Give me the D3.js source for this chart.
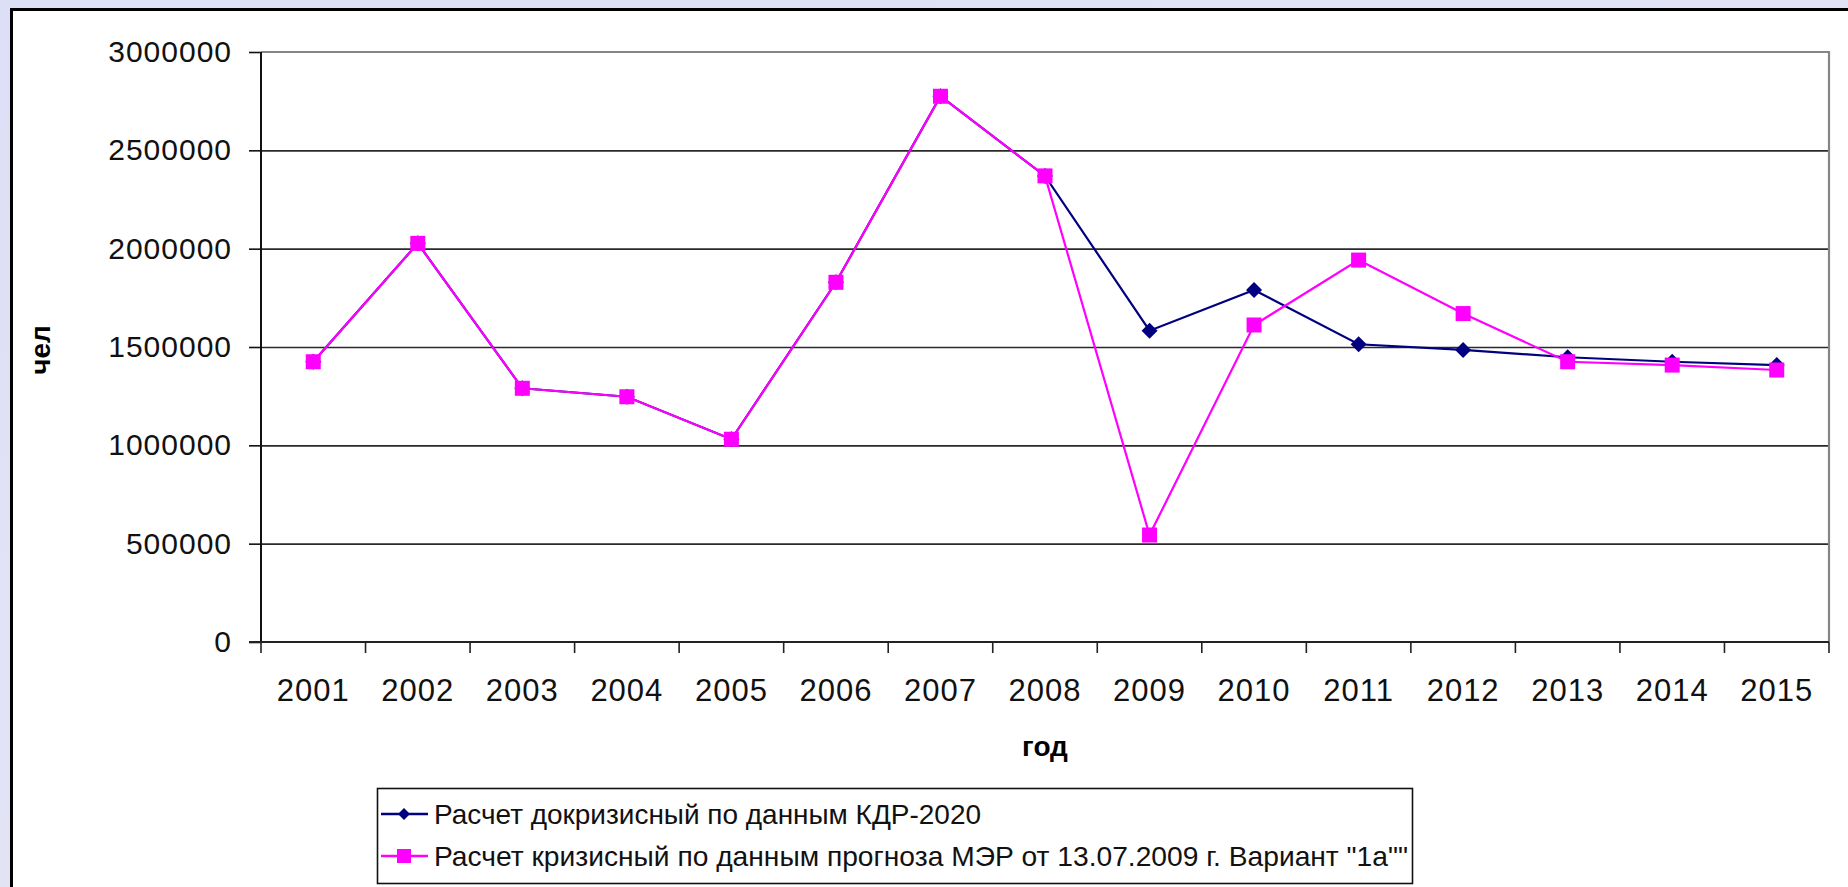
<!DOCTYPE html>
<html><head><meta charset="utf-8">
<script src="https://cdn.jsdelivr.net/npm/d3@7"></script>
<style>
html,body{margin:0;padding:0;background:#dfe1f5;overflow:hidden}
svg{display:block}
</style></head><body>
<svg id="c" width="1848" height="887"></svg>
<script>
// ---- data ----
const years = ["2001","2002","2003","2004","2005","2006","2007","2008","2009","2010","2011","2012","2013","2014","2015"];
const preCrisis = [1425000,2027000,1290000,1247000,1031000,1829000,2775000,2370000,1583000,1790000,1514000,1485000,1448000,1425000,1408000];
const crisis    = [1425000,2027000,1290000,1247000,1031000,1829000,2775000,2370000,544000,1612000,1942000,1670000,1425000,1408000,1383000];
const seriesNames = ["Расчет докризисный по данным КДР-2020", "Расчет кризисный по данным прогноза МЭР от 13.07.2009 г. Вариант \"1а\"\""];
const yTicks = [0,500000,1000000,1500000,2000000,2500000,3000000];
const xTitle = "год";
const yTitle = "чел";

// ---- layout ----
const svg = d3.select("#c");
const L = 261, R = 1829, T = 52, B = 642;
const font = "'Liberation Sans', Arial, sans-serif";

const defs = svg.append("defs");
const g0 = defs.append("linearGradient").attr("id","bg").attr("x1",0).attr("y1",0).attr("x2",1).attr("y2",1);
g0.append("stop").attr("offset","0%").attr("stop-color","#dcdff5");
g0.append("stop").attr("offset","100%").attr("stop-color","#e9eaf8");
svg.append("rect").attr("width",1848).attr("height",887).attr("fill","url(#bg)");

// chart area
svg.append("rect").attr("x",11.5).attr("y",9.5).attr("width",1900).attr("height",900)
  .attr("fill","#fff").attr("stroke","#000").attr("stroke-width",3);

const x = d3.scaleBand().domain(years).range([L, R]).padding(0);
const y = d3.scaleLinear().domain([0, 3000000]).range([B, T]);
const cx = d => x(d) + x.bandwidth()/2;

// gridlines
svg.append("g").attr("transform",`translate(${L},0)`)
  .call(d3.axisLeft(y).tickValues(yTicks.filter(v=>v>0 && v<3000000)).tickSize(-(R-L)).tickFormat(""))
  .call(g=>{g.select(".domain").remove(); g.selectAll("line").attr("stroke","#2a2a2a").attr("stroke-width",1.6);});

// plot border top/right (gray)
svg.append("path").attr("d",`M${L},${y(3000000)}H${R}V${B}`).attr("fill","none")
  .attr("stroke","#858585").attr("stroke-width",2.2);

// y axis
const ya = svg.append("g").attr("transform",`translate(${L},0)`)
  .call(d3.axisLeft(y).tickValues(yTicks).tickSize(12).tickPadding(17).tickFormat(d3.format("d")));
ya.select(".domain").attr("d",`M0,${T}V${B}`).attr("stroke","#111").attr("stroke-width",2);
ya.selectAll("line").attr("stroke","#111").attr("stroke-width",1.6);
ya.selectAll("text").attr("font-family",font).attr("font-size",30).attr("fill","#111").attr("letter-spacing","1px");

// x axis
const xa = svg.append("g").attr("transform",`translate(0,${B})`)
  .call(d3.axisBottom(x).tickSize(0).tickPadding(48));
xa.select(".domain").attr("d",`M${L-12},0H${R}`).attr("stroke","#222").attr("stroke-width",2);
xa.selectAll("text").attr("font-family",font).attr("font-size",31).attr("fill","#111").attr("dy","0.36em").attr("letter-spacing","1px");
// boundary ticks
const bounds = years.map(d=>x(d)).concat([R]);
xa.selectAll("line.bt").data(bounds).join("line").attr("class","bt")
  .attr("x1",d=>d).attr("x2",d=>d).attr("y1",0).attr("y2",11)
  .attr("stroke","#222").attr("stroke-width",1.6);

// axis titles
svg.append("text").attr("x",(L+R)/2).attr("y",746).attr("text-anchor","middle").attr("dy","0.35em")
  .attr("font-family",font).attr("font-weight","bold").attr("font-size",28).text(xTitle);
svg.append("text").attr("transform","translate(40,350) rotate(-90)").attr("text-anchor","middle").attr("dy","0.35em")
  .attr("font-family",font).attr("font-weight","bold").attr("font-size",28).text(yTitle);

// lines
const line = d3.line().x((d,i)=>cx(years[i])).y(d=>y(d));
const blue = "#000080", pink = "#ff00ff";
svg.append("path").datum(preCrisis).attr("d",line).attr("fill","none").attr("stroke",blue).attr("stroke-width",2.2);
const diamond = (px,py,r)=>`M${px},${py-r}L${px+r},${py}L${px},${py+r}L${px-r},${py}Z`;
svg.append("g").selectAll("path").data(preCrisis).join("path")
  .attr("d",(d,i)=>diamond(cx(years[i]), y(d), 8)).attr("fill",blue);

svg.append("path").datum(crisis).attr("d",line).attr("fill","none").attr("stroke",pink).attr("stroke-width",2.2);
svg.append("g").selectAll("rect").data(crisis).join("rect")
  .attr("x",(d,i)=>cx(years[i])-7.5).attr("y",d=>y(d)-7.5).attr("width",15).attr("height",15).attr("fill",pink);

// legend
const lg = svg.append("g");
lg.append("rect").attr("x",377.5).attr("y",788.5).attr("width",1035).attr("height",95)
  .attr("fill","#fff").attr("stroke","#111").attr("stroke-width",1.6);
const rows = [{name:seriesNames[0], color:blue, kind:"d", yy:814, w:547},
              {name:seriesNames[1], color:pink, kind:"s", yy:856, w:974}];
rows.forEach(r=>{
  lg.append("line").attr("x1",381).attr("x2",428).attr("y1",r.yy).attr("y2",r.yy).attr("stroke",r.color).attr("stroke-width",2.4);
  if (r.kind==="d") lg.append("path").attr("d",diamond(404,r.yy,6)).attr("fill",r.color);
  else lg.append("rect").attr("x",397).attr("y",r.yy-7).attr("width",14).attr("height",14).attr("fill",r.color);
  lg.append("text").attr("x",434).attr("y",r.yy).attr("dy","0.36em")
    .attr("font-family",font).attr("font-size",28).attr("fill","#111")
    .attr("textLength",r.w).attr("lengthAdjust","spacingAndGlyphs").text(r.name);
});
</script>
</body></html>
